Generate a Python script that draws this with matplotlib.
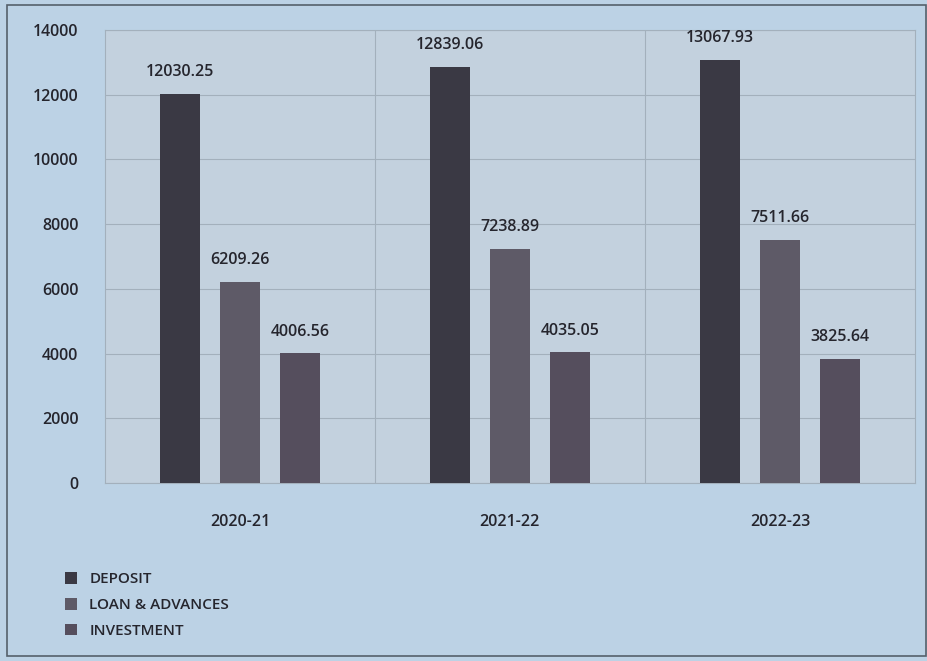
import matplotlib.pyplot as plt
import numpy as np
from matplotlib.patches import Patch, Rectangle

years = ['2020-21', '2021-22', '2022-23']
deposit = [12030.25, 12839.06, 13067.93]
loan = [6209.26, 7238.89, 7511.66]
investment = [4006.56, 4035.05, 3825.64]
series_names = ['DEPOSIT', 'LOAN & ADVANCES', 'INVESTMENT']
colors = ['#3a3944', '#5e5a67', '#554e5d']

plt.rcParams['font.family'] = ['Open Sans', 'DejaVu Sans']
plt.rcParams['font.weight'] = 'semibold'
txt = '#25252d'

fig = plt.figure(figsize=(9.28, 6.61), dpi=100, facecolor='#bcd2e5')
ax = fig.add_axes([0.113, 0.269, 0.873, 0.686])
ax.set_facecolor('#c3d1de')

x = np.arange(len(years))
w = 0.148
step = 0.222
for i, (vals, c) in enumerate(zip([deposit, loan, investment], colors)):
    pos = x + (i - 1) * step
    ax.bar(pos, vals, width=w, color=c, zorder=3)
    for p, v in zip(pos, vals):
        ax.annotate(f'{v:.2f}', (p, v), xytext=(0, 10), textcoords='offset points',
                    ha='center', va='bottom', fontsize=11.5, color=txt)

ax.set_xlim(-0.5, 2.5)
ax.set_ylim(0, 14000)
ax.set_yticks(range(0, 14001, 2000))
ax.set_xticks(x)
ax.set_xticklabels(years)
ax.set_xticks([0.5, 1.5], minor=True)
ax.grid(axis='y', which='major', color='#a3b0bc', linewidth=0.8, zorder=0)
ax.grid(axis='x', which='minor', color='#a3b0bc', linewidth=0.8, zorder=0)
ax.tick_params(axis='both', which='both', length=0, labelsize=11.5, colors=txt)
ax.tick_params(axis='x', pad=22)
ax.tick_params(axis='y', pad=19)
for s in ax.spines.values():
    s.set_color('#a3b0bc')
    s.set_linewidth(0.8)

handles = [Patch(facecolor=c, label=n) for c, n in zip(colors, series_names)]
fig.legend(handles=handles, loc='upper left', bbox_to_anchor=(0.055, 0.155),
           frameon=False, fontsize=11, handlelength=0.8, handleheight=0.8,
           handletextpad=0.8, labelspacing=0.75, labelcolor=txt)

fig.patches.append(Rectangle((0.008, 0.008), 0.99, 0.985, transform=fig.transFigure,
                             fill=False, edgecolor='#55606b', linewidth=1.2))

fig.savefig('out.png', dpi=100, facecolor=fig.get_facecolor())
